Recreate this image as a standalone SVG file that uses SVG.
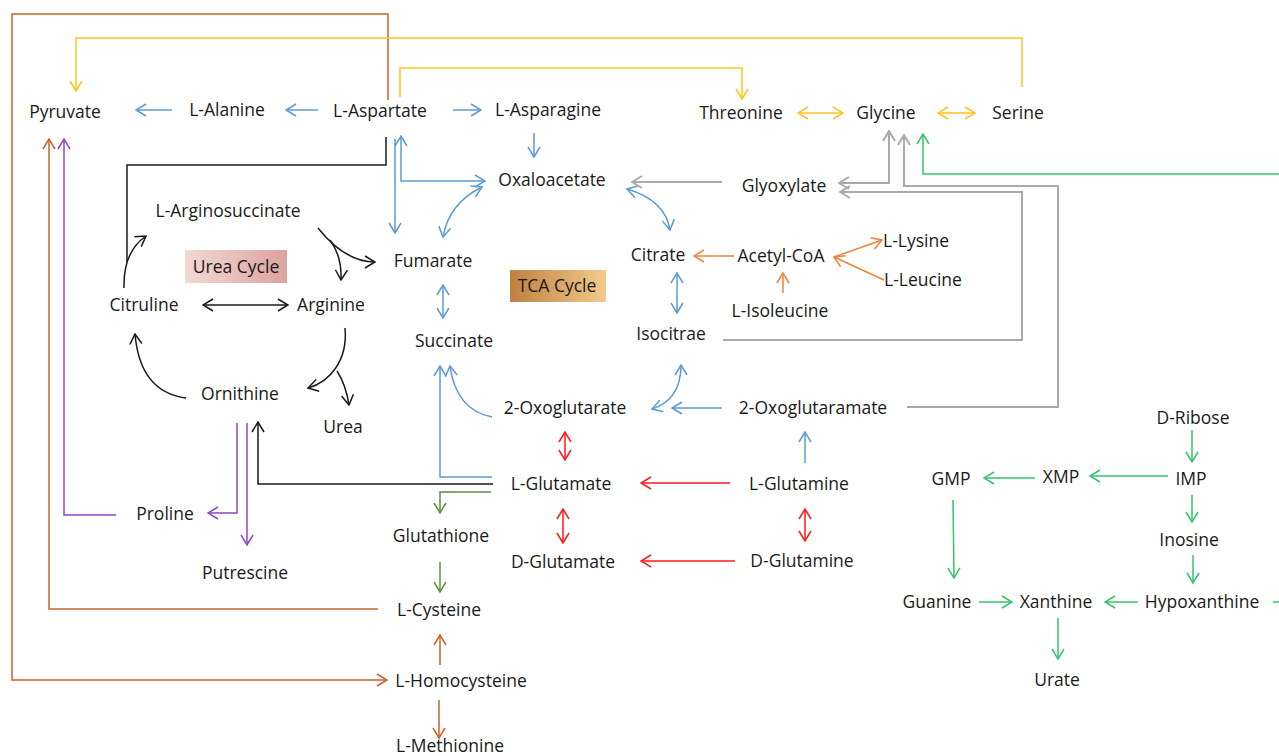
<svg xmlns="http://www.w3.org/2000/svg" width="1279" height="756" viewBox="0 0 1279 756">
<defs>
<style>
text{font-family:"Open Sans","Liberation Sans",sans-serif;font-size:17.5px;fill:#1a1a1a;text-anchor:middle}
path,line{fill:none;stroke-width:1.5}
.bl{stroke:#5b9bd5}.rd{stroke:#ff1a1a}.bk{stroke:#1a1a1a}.pu{stroke:#8e48c4}.br{stroke:#c8642a}
.dg{stroke:#5f8f3e}.ye{stroke:#ffc31f}.gy{stroke:#aaaaaa;stroke-width:2}.gn{stroke:#32c46e}.or{stroke:#f0823c}
</style>
<marker id="mbl" viewBox="0 0 12 14" refX="11" refY="7" markerWidth="12" markerHeight="14" markerUnits="userSpaceOnUse" orient="auto-start-reverse"><path d="M1,1 L11,7 L1,13" style="stroke:#5b9bd5;stroke-width:1.5;fill:none"/></marker>
<marker id="mrd" viewBox="0 0 12 14" refX="11" refY="7" markerWidth="12" markerHeight="14" markerUnits="userSpaceOnUse" orient="auto-start-reverse"><path d="M1,1 L11,7 L1,13" style="stroke:#ff1a1a;stroke-width:1.5;fill:none"/></marker>
<marker id="mbk" viewBox="0 0 12 14" refX="11" refY="7" markerWidth="12" markerHeight="14" markerUnits="userSpaceOnUse" orient="auto-start-reverse"><path d="M1,1 L11,7 L1,13" style="stroke:#1a1a1a;stroke-width:1.5;fill:none"/></marker>
<marker id="mpu" viewBox="0 0 12 14" refX="11" refY="7" markerWidth="12" markerHeight="14" markerUnits="userSpaceOnUse" orient="auto-start-reverse"><path d="M1,1 L11,7 L1,13" style="stroke:#8e48c4;stroke-width:1.5;fill:none"/></marker>
<marker id="mbr" viewBox="0 0 12 14" refX="11" refY="7" markerWidth="12" markerHeight="14" markerUnits="userSpaceOnUse" orient="auto-start-reverse"><path d="M1,1 L11,7 L1,13" style="stroke:#c8642a;stroke-width:1.5;fill:none"/></marker>
<marker id="mdg" viewBox="0 0 12 14" refX="11" refY="7" markerWidth="12" markerHeight="14" markerUnits="userSpaceOnUse" orient="auto-start-reverse"><path d="M1,1 L11,7 L1,13" style="stroke:#5f8f3e;stroke-width:1.5;fill:none"/></marker>
<marker id="mye" viewBox="0 0 12 14" refX="11" refY="7" markerWidth="12" markerHeight="14" markerUnits="userSpaceOnUse" orient="auto-start-reverse"><path d="M1,1 L11,7 L1,13" style="stroke:#ffc31f;stroke-width:1.5;fill:none"/></marker>
<marker id="mgy" viewBox="0 0 12 14" refX="11" refY="7" markerWidth="12" markerHeight="14" markerUnits="userSpaceOnUse" orient="auto-start-reverse"><path d="M1,1 L11,7 L1,13" style="stroke:#aaaaaa;stroke-width:2;fill:none"/></marker>
<marker id="mgn" viewBox="0 0 12 14" refX="11" refY="7" markerWidth="12" markerHeight="14" markerUnits="userSpaceOnUse" orient="auto-start-reverse"><path d="M1,1 L11,7 L1,13" style="stroke:#32c46e;stroke-width:1.5;fill:none"/></marker>
<marker id="mor" viewBox="0 0 12 14" refX="11" refY="7" markerWidth="12" markerHeight="14" markerUnits="userSpaceOnUse" orient="auto-start-reverse"><path d="M1,1 L11,7 L1,13" style="stroke:#f0823c;stroke-width:1.5;fill:none"/></marker>
<linearGradient id="gurea" x1="0" x2="1" y1="0" y2="0"><stop offset="0" stop-color="#f3d8d4"/><stop offset="1" stop-color="#dca39e"/></linearGradient>
<linearGradient id="gtca" x1="0" x2="1" y1="0" y2="0"><stop offset="0" stop-color="#bf8040"/><stop offset="1" stop-color="#f2cb8c"/></linearGradient>
</defs>
<rect width="1279" height="756" fill="#ffffff"/>

<g id="connectors">
<!-- blue -->
<path class="bl" d="M172,110 H136" marker-end="url(#mbl)"/>
<path class="bl" d="M318,110 H286" marker-end="url(#mbl)"/>
<path class="bl" d="M453,110 H481" marker-end="url(#mbl)"/>
<path class="bl" d="M534,133 V157" marker-end="url(#mbl)"/>
<path class="bl" d="M395,139 V233" marker-end="url(#mbl)"/>
<path class="bl" d="M401,136 V181 H485" marker-start="url(#mbl)" marker-end="url(#mbl)"/>
<path class="bl" d="M443,237 Q449,203 482,187" marker-start="url(#mbl)" marker-end="url(#mbl)"/>
<path class="bl" d="M627,189 Q665,200 670,230" marker-start="url(#mbl)" marker-end="url(#mbl)"/>
<path class="bl" d="M677,273 V313" marker-start="url(#mbl)" marker-end="url(#mbl)"/>
<path class="bl" d="M443,285 V318" marker-start="url(#mbl)" marker-end="url(#mbl)"/>
<path class="bl" d="M492,417 Q456,410 450,366" marker-end="url(#mbl)"/>
<path class="bl" d="M492,477 H440 V366" marker-end="url(#mbl)"/>
<path class="bl" d="M722,408 H672" marker-end="url(#mbl)"/>
<path class="bl" d="M652,409 Q681,400 681,365" marker-start="url(#mbl)" marker-end="url(#mbl)"/>
<path class="bl" d="M805,463 V432" marker-end="url(#mbl)"/>
<!-- red -->
<path class="rd" d="M565,432 V460" marker-start="url(#mrd)" marker-end="url(#mrd)"/>
<path class="rd" d="M563,509 V543" marker-start="url(#mrd)" marker-end="url(#mrd)"/>
<path class="rd" d="M730,483 H641" marker-end="url(#mrd)"/>
<path class="rd" d="M805,509 V541" marker-start="url(#mrd)" marker-end="url(#mrd)"/>
<path class="rd" d="M735,561 H641" marker-end="url(#mrd)"/>
<!-- black -->
<path class="bk" d="M386,137 V165 H127 V262"/>
<path class="bk" d="M124,288 Q123,252 146,236" marker-end="url(#mbk)"/>
<path class="bk" d="M318,228 Q345,262 375,262" marker-end="url(#mbk)"/>
<path class="bk" d="M330,240 Q342,256 341,280" marker-end="url(#mbk)"/>
<path class="bk" d="M203,305 H288" marker-start="url(#mbk)" marker-end="url(#mbk)"/>
<path class="bk" d="M345,328 C348,360 330,382 308,388" marker-end="url(#mbk)"/>
<path class="bk" d="M337,371 Q346,385 349,405" marker-end="url(#mbk)"/>
<path class="bk" d="M186,398 Q140,392 135,334" marker-end="url(#mbk)"/>
<path class="bk" d="M493,484 H258 V422" marker-end="url(#mbk)"/>
<!-- purple -->
<path class="pu" d="M237,423 V513 H208" marker-end="url(#mpu)"/>
<path class="pu" d="M247,423 V545" marker-end="url(#mpu)"/>
<path class="pu" d="M116,515 H64 V139" marker-end="url(#mpu)"/>
<!-- brown -->
<path class="br" d="M388,100 V14 H12 V680 H387" marker-end="url(#mbr)"/>
<path class="br" d="M378,609 H49 V139" marker-end="url(#mbr)"/>
<path class="br" d="M440,665 V635" marker-end="url(#mbr)"/>
<path class="br" d="M439,700 V738" marker-end="url(#mbr)"/>
<!-- dark green -->
<path class="dg" d="M491,492 H440 V513" marker-end="url(#mdg)"/>
<path class="dg" d="M440,562 V592" marker-end="url(#mdg)"/>
<!-- yellow -->
<path class="ye" d="M1022,87 V38 H76 V91" marker-end="url(#mye)"/>
<path class="ye" d="M400,97 V68 H742 V99" marker-end="url(#mye)"/>
<path class="ye" d="M798,113 H843" marker-start="url(#mye)" marker-end="url(#mye)"/>
<path class="ye" d="M938,113 H975" marker-start="url(#mye)" marker-end="url(#mye)"/>
<!-- gray -->
<path class="gy" d="M722,182 H632" marker-end="url(#mgy)"/>
<path class="gy" d="M889,131 V183 H839" marker-start="url(#mgy)" marker-end="url(#mgy)"/>
<path class="gy" d="M907,407 H1058 V186 H904 V135" marker-end="url(#mgy)"/>
<path class="gy" d="M723,340 H1022 V192 H840" marker-end="url(#mgy)"/>
<!-- green -->
<path class="gn" d="M1279,174 H923 V134" marker-end="url(#mgn)"/>
<path class="gn" d="M1192,430 V462" marker-end="url(#mgn)"/>
<path class="gn" d="M1168,476 H1090" marker-end="url(#mgn)"/>
<path class="gn" d="M1035,478 H984" marker-end="url(#mgn)"/>
<path class="gn" d="M1192,495 V522" marker-end="url(#mgn)"/>
<path class="gn" d="M1193,555 V583" marker-end="url(#mgn)"/>
<path class="gn" d="M953,500 L954,578" marker-end="url(#mgn)"/>
<path class="gn" d="M979,602 H1012" marker-end="url(#mgn)"/>
<path class="gn" d="M1138,602 H1105" marker-end="url(#mgn)"/>
<path class="gn" d="M1058,618 V659" marker-end="url(#mgn)"/>
<path class="gn" d="M1279,602 H1273"/>
<!-- orange -->
<path class="or" d="M734,256 H694" marker-end="url(#mor)"/>
<path class="or" d="M783,293 V273" marker-end="url(#mor)"/>
<path class="or" d="M834,257 L882,240" marker-end="url(#mor)"/>
<path class="or" d="M884,280 L834,257" marker-end="url(#mor)"/>
</g>

<g id="n-urea-cycle"><rect x="185" y="250" width="102" height="33" fill="url(#gurea)"/><text x="236" y="273">Urea Cycle</text></g>
<g id="n-tca-cycle"><rect x="510" y="270" width="96" height="32" fill="url(#gtca)"/><text x="557" y="292">TCA Cycle</text></g>

<g id="n-pyruvate"><text x="65" y="118">Pyruvate</text></g>
<g id="n-alanine"><text x="227" y="116">L-Alanine</text></g>
<g id="n-aspartate"><text x="380" y="117">L-Aspartate</text></g>
<g id="n-asparagine"><text x="548" y="116">L-Asparagine</text></g>
<g id="n-threonine"><text x="741" y="119">Threonine</text></g>
<g id="n-glycine"><text x="886" y="119">Glycine</text></g>
<g id="n-serine"><text x="1018" y="119">Serine</text></g>
<g id="n-oxaloacetate"><text x="552" y="186">Oxaloacetate</text></g>
<g id="n-glyoxylate"><text x="784" y="192">Glyoxylate</text></g>
<g id="n-arginosuccinate"><text x="228" y="217">L-Arginosuccinate</text></g>
<g id="n-fumarate"><text x="433" y="267">Fumarate</text></g>
<g id="n-citrate"><text x="658" y="261">Citrate</text></g>
<g id="n-acetylcoa"><text x="781" y="262">Acetyl-CoA</text></g>
<g id="n-lysine"><text x="916" y="247">L-Lysine</text></g>
<g id="n-leucine"><text x="923" y="286">L-Leucine</text></g>
<g id="n-isoleucine"><text x="780" y="317">L-Isoleucine</text></g>
<g id="n-citruline"><text x="144" y="311">Citruline</text></g>
<g id="n-arginine"><text x="331" y="311">Arginine</text></g>
<g id="n-succinate"><text x="454" y="347">Succinate</text></g>
<g id="n-isocitrae"><text x="671" y="340">Isocitrae</text></g>
<g id="n-ornithine"><text x="240" y="400">Ornithine</text></g>
<g id="n-urea"><text x="343" y="433">Urea</text></g>
<g id="n-oxoglutarate"><text x="565" y="414">2-Oxoglutarate</text></g>
<g id="n-oxoglutaramate"><text x="813" y="414">2-Oxoglutaramate</text></g>
<g id="n-dribose"><text x="1193" y="424">D-Ribose</text></g>
<g id="n-lglutamate"><text x="561" y="490">L-Glutamate</text></g>
<g id="n-lglutamine"><text x="799" y="490">L-Glutamine</text></g>
<g id="n-gmp"><text x="951" y="485">GMP</text></g>
<g id="n-xmp"><text x="1061" y="483">XMP</text></g>
<g id="n-imp"><text x="1191" y="485">IMP</text></g>
<g id="n-proline"><text x="165" y="520">Proline</text></g>
<g id="n-glutathione"><text x="441" y="542">Glutathione</text></g>
<g id="n-inosine"><text x="1189" y="546">Inosine</text></g>
<g id="n-dglutamate"><text x="563" y="568">D-Glutamate</text></g>
<g id="n-dglutamine"><text x="802" y="567">D-Glutamine</text></g>
<g id="n-putrescine"><text x="245" y="579">Putrescine</text></g>
<g id="n-guanine"><text x="937" y="608">Guanine</text></g>
<g id="n-xanthine"><text x="1056" y="608">Xanthine</text></g>
<g id="n-hypoxanthine"><text x="1202" y="608">Hypoxanthine</text></g>
<g id="n-cysteine"><text x="439" y="616">L-Cysteine</text></g>
<g id="n-homocysteine"><text x="461" y="687">L-Homocysteine</text></g>
<g id="n-urate"><text x="1057" y="686">Urate</text></g>
<g id="n-methionine"><text x="450" y="752">L-Methionine</text></g>
</svg>
